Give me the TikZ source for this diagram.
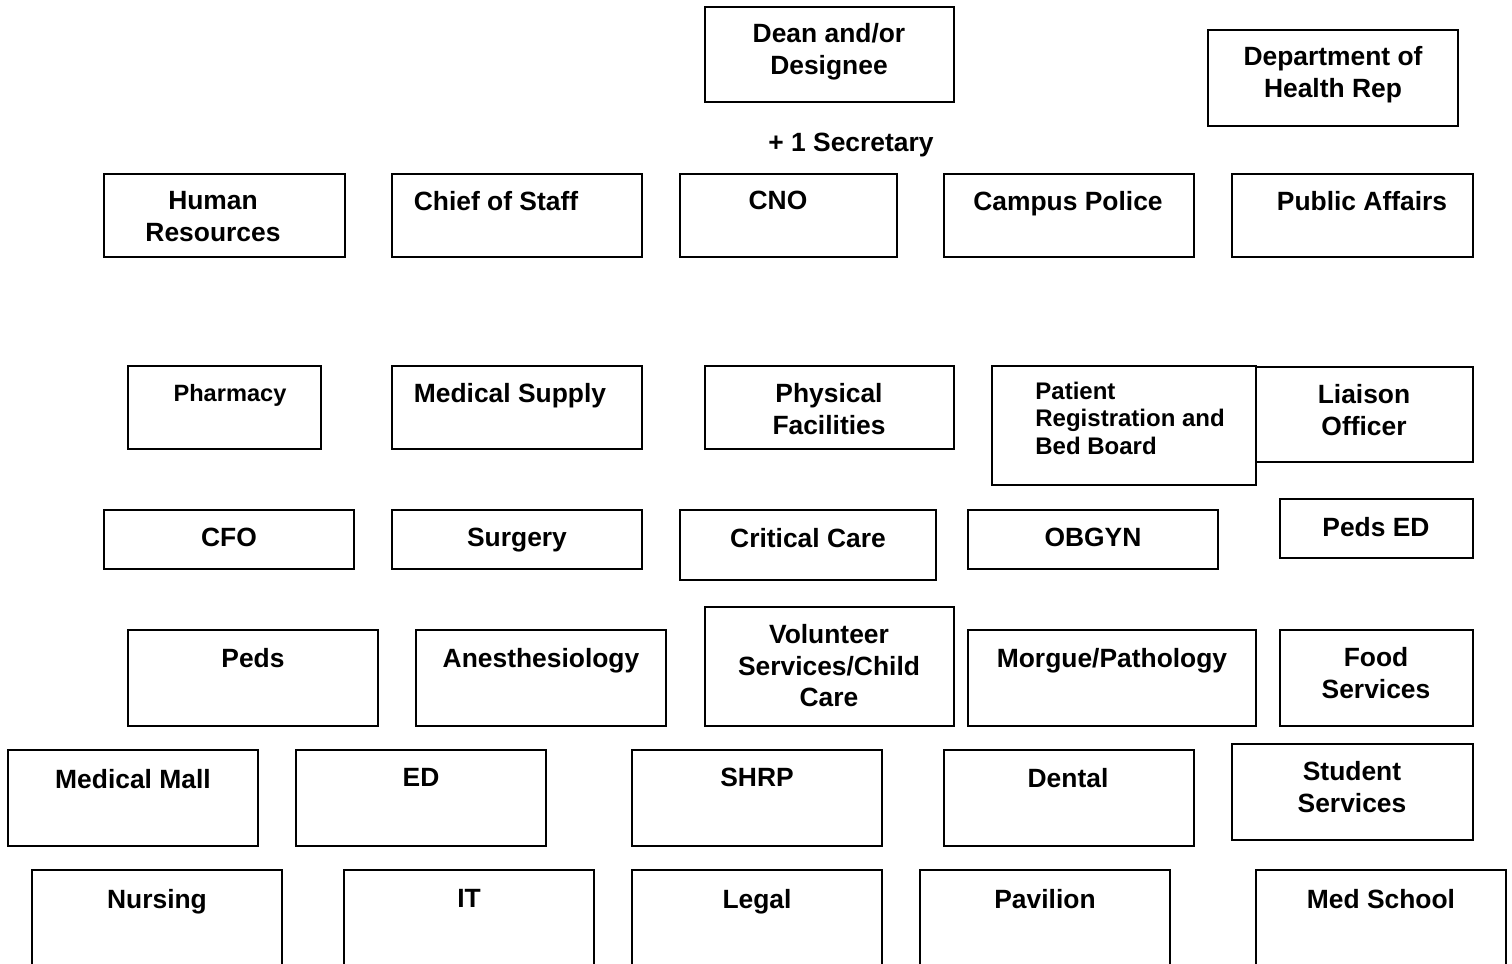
\documentclass[tikz,border=0pt]{standalone}
\usepackage{fontspec}
\setmainfont{Liberation Sans}

\tikzset{
  frame/.style={draw=black, line width=0.9pt},
  lbl/.style={inner sep=0pt, anchor=north, align=center,
    font=\bfseries\fontsize{13.2}{15.8}\selectfont},
  small/.style={font=\bfseries\fontsize{11.8}{13.6}\selectfont}
}

\begin{document}
\begin{tikzpicture}[x=0.5pt, y=-0.5pt]
  \clip (0,0) rectangle (1512,964);

  % top
  \draw[frame] (705,7) rectangle (954,102);
  \node[lbl] (dean) at (829,23) {Dean and/or\\Designee};
  \draw[frame] (1208,30) rectangle (1458,126);
  \node[lbl] (healthrep) at (1333,46) {Department of\\Health Rep};
  \node[lbl] (secretary) at (851,133) {+ 1 Secretary};

  % second row
  \draw[frame] (104,174) rectangle (345,257);
  \node[lbl] (hr) at (213,191) {Human\\Resources};
  \draw[frame] (392,174) rectangle (642,257);
  \node[lbl] (cos) at (496,191) {Chief of Staff};
  \draw[frame] (680,174) rectangle (897,257);
  \node[lbl] (cno) at (778,191) {CNO};
  \draw[frame] (944,174) rectangle (1194,257);
  \node[lbl] (police) at (1068,191) {Campus Police};
  \draw[frame] (1232,174) rectangle (1473,257);
  \node[lbl] (affairs) at (1362,191) {Public Affairs};

  % third row
  \draw[frame] (128,366) rectangle (321,449);
  \node[lbl,small] (pharmacy) at (230,384) {Pharmacy};
  \draw[frame] (392,366) rectangle (642,449);
  \node[lbl] (supply) at (510,383) {Medical Supply};
  \draw[frame] (705,366) rectangle (954,449);
  \node[lbl] (facilities) at (829,383) {Physical\\Facilities};
  \draw[frame] (992,366) rectangle (1256,485);
  \node[lbl,small,anchor=north west,align=left,font=\bfseries\fontsize{12}{13.6}\selectfont]
    (patreg) at (1035,382) {Patient\\Registration and\\Bed Board};
  \draw[frame] (1256,367) rectangle (1473,462);
  \node[lbl] (liaison) at (1364,384) {Liaison\\Officer};

  % fourth row
  \draw[frame] (104,510) rectangle (354,569);
  \node[lbl] (cfo) at (229,528) {CFO};
  \draw[frame] (392,510) rectangle (642,569);
  \node[lbl] (surgery) at (517,528) {Surgery};
  \draw[frame] (680,510) rectangle (936,580);
  \node[lbl] (critcare) at (808,528) {Critical Care};
  \draw[frame] (968,510) rectangle (1218,569);
  \node[lbl] (obgyn) at (1093,528) {OBGYN};
  \draw[frame] (1280,499) rectangle (1473,558);
  \node[lbl] (pedsed) at (1376,517) {Peds ED};

  % fifth row
  \draw[frame] (128,630) rectangle (378,726);
  \node[lbl] (peds) at (253,648) {Peds};
  \draw[frame] (416,630) rectangle (666,726);
  \node[lbl] (anesth) at (541,648) {Anesthesiology};
  \draw[frame] (705,607) rectangle (954,726);
  \node[lbl] (volunteer) at (829,624) {Volunteer\\Services/Child\\Care};
  \draw[frame] (968,630) rectangle (1256,726);
  \node[lbl] (morgue) at (1112,648) {Morgue/Pathology};
  \draw[frame] (1280,630) rectangle (1473,726);
  \node[lbl] (food) at (1376,647) {Food\\Services};

  % sixth row
  \draw[frame] (8,750) rectangle (258,846);
  \node[lbl] (mall) at (133,769) {Medical Mall};
  \draw[frame] (296,750) rectangle (546,846);
  \node[lbl] (ed) at (421,768) {ED};
  \draw[frame] (632,750) rectangle (882,846);
  \node[lbl] (shrp) at (757,768) {SHRP};
  \draw[frame] (944,750) rectangle (1194,846);
  \node[lbl] (dental) at (1068,768) {Dental};
  \draw[frame] (1232,744) rectangle (1473,840);
  \node[lbl] (students) at (1352,761) {Student\\Services};

  % bottom row, runs off the page
  \foreach \xa/\name/\txt in {32/nursing/Nursing, 344/it/IT, 632/legal/Legal,
      920/pavilion/Pavilion, 1256/medschool/Med School} {
    \draw[frame] (\xa,870) rectangle ({\xa+250},1000);
    \node[lbl] (\name) at ({\xa+125},889) {\txt};
  }
\end{tikzpicture}
\end{document}
